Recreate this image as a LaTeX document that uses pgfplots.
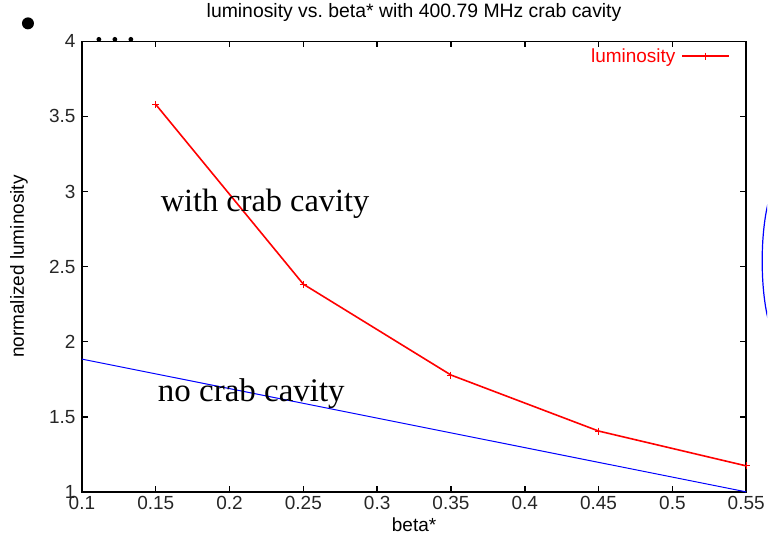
\documentclass[border=0pt]{standalone}
\usepackage{pgfplots}
\pgfplotsset{compat=1.18}
\usepackage{fontspec}
\setmainfont{Liberation Sans}
\newfontfamily\timesfont{Liberation Serif}
\begin{document}
\begin{tikzpicture}
\begin{axis}[
  at={(0pt,0pt)}, anchor=south west,
  scale only axis, width=665pt, height=451pt,
  xmin=0.1, xmax=0.55, ymin=1, ymax=4,
  clip=false,
  xtick={0.1,0.15,0.2,0.25,0.3,0.35,0.4,0.45,0.5,0.55},
  xticklabels={0.1,0.15,0.2,0.25,0.3,0.35,0.4,0.45,0.5,0.55},
  ytick={1,1.5,2,2.5,3,3.5,4},
  yticklabels={1,1.5,2,2.5,3,3.5,4},
  tick align=inside, major tick length=6pt,
  tick style={black, line width=1.5pt},
  axis line style={line width=1.5pt},
  ticklabel style={font=\fontsize{19}{21}\selectfont, text=black!85},
  yticklabel style={xshift=-3pt},
  xticklabel style={yshift=-1pt},
  title={luminosity vs.\ beta* with 400.79 MHz crab cavity},
  title style={at={(axis description cs:0.5,1)}, anchor=base, yshift=18pt, font=\fontsize{19.4}{21}\selectfont},
  xlabel={beta*},
  xlabel style={at={(axis description cs:0.5,0)}, anchor=base, yshift=-40pt, font=\fontsize{19}{21}\selectfont},
  ylabel={normalized luminosity},
  ylabel style={at={(axis description cs:-0.0872,0.5)}, anchor=base, font=\fontsize{19}{21}\selectfont},
  legend style={at={(axis description cs:1,1)}, anchor=north east, xshift=-13pt, yshift=-3pt,
    draw=none, fill=none, font=\fontsize{19}{21}\selectfont, text=red, /tikz/column sep=4pt},
  legend plot pos=right,
  legend image code/.code={\draw[mark repeat=2,mark phase=2,#1] plot coordinates {(0pt,0pt) (23.5pt,0pt) (47pt,0pt)};},
]
\addplot[blue, line width=1pt, forget plot] coordinates {(0.1,1.884) (0.55,1.0)};
\addplot[red, line width=1.6pt, mark=+, mark size=3.5pt, mark options={red, line width=1pt}] coordinates {
  (0.15,3.58) (0.25,2.383) (0.35,1.778) (0.45,1.405) (0.55,1.173)};
\addlegendentry{luminosity}
\node[anchor=base west, font=\timesfont\fontsize{32.4}{36}\selectfont, inner sep=0pt] at (axis cs:0.1533,2.869) {with crab cavity};
\node[anchor=base west, font=\timesfont\fontsize{33}{36}\selectfont, inner sep=0pt] at (axis cs:0.1514,1.605) {no crab cavity};
\end{axis}
\fill (-54pt,469pt) circle (6pt);
\fill (17pt,453pt) circle (2.4pt);
\fill (33pt,453pt) circle (2.4pt);
\fill (49pt,453pt) circle (2.4pt);
\begin{scope}
\clip (-82pt,-50pt) rectangle (686pt,491pt);
\draw[blue, line width=1.2pt] (700pt,231pt) ellipse (19pt and 80pt);
\end{scope}
\path[use as bounding box] (-82pt,-50pt) rectangle (686pt,491pt);
\end{tikzpicture}
\end{document}
